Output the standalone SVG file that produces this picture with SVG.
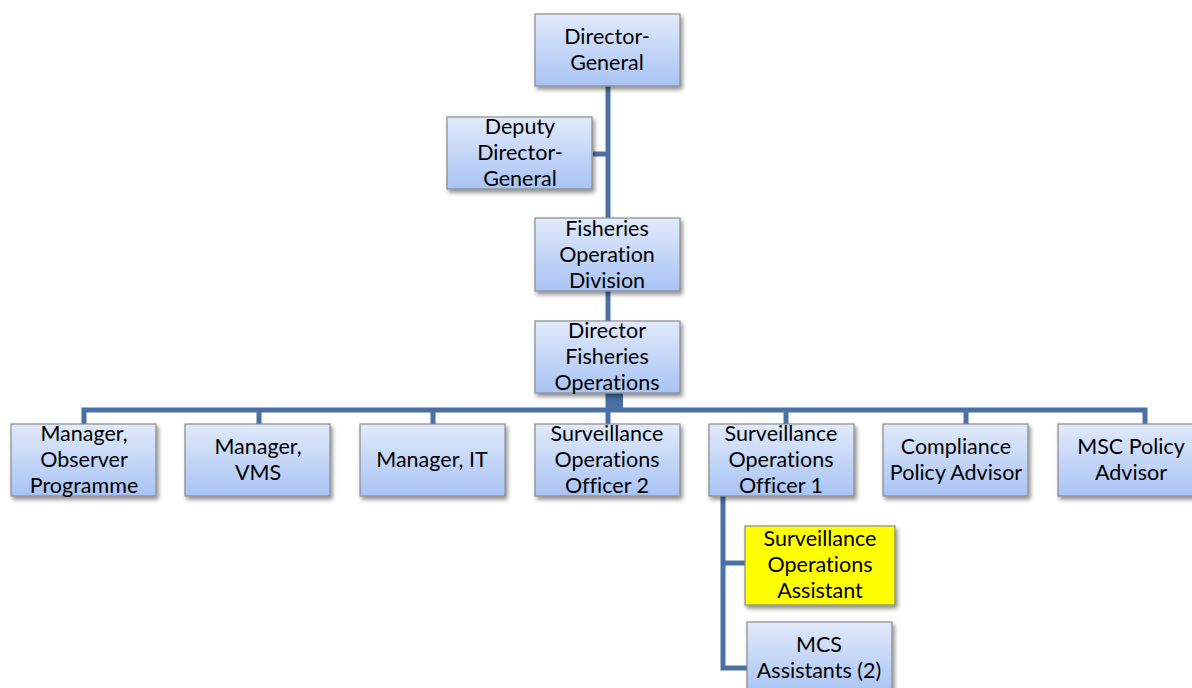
<svg xmlns="http://www.w3.org/2000/svg" width="1192" height="688" viewBox="0 0 1192 688">
<defs>
<linearGradient id="g" x1="0" y1="0" x2="0" y2="1"><stop offset="0" stop-color="#e1eafb"/><stop offset="1" stop-color="#a8c3f4"/></linearGradient>
<filter id="sh" x="-10%" y="-10%" width="125%" height="130%"><feGaussianBlur in="SourceAlpha" stdDeviation="2"/><feOffset dx="2" dy="3"/><feComponentTransfer><feFuncA type="linear" slope="0.45"/></feComponentTransfer><feMerge><feMergeNode/><feMergeNode in="SourceGraphic"/></feMerge></filter>
</defs>
<style>
.b{fill:url(#g);stroke:#8a8a8a;stroke-width:1.2;filter:url(#sh)}
.y{fill:#ffff00;stroke:#8a8a8a;stroke-width:1.2;filter:url(#sh)}
.t{font-family:Lato,"Open Sans","Liberation Sans",sans-serif;font-size:21.5px;fill:#000;text-anchor:middle;dominant-baseline:central;font-variant-ligatures:none}
.c{stroke:#4a70a5;stroke-width:5;fill:none}
</style>
<rect width="1192" height="688" fill="#fff"/>
<g id="connectors">
<path class="c" d="M608 86V410M593 154H608"/>
<rect x="606" y="393" width="17" height="17" fill="#4a70a5"/>
<path class="c" d="M84 424V410H1145V424M259 410V424M433 410V424M608 410V424M786 410V424M966 410V424"/>
<path class="c" d="M723 496V668H747M723 563H745"/>
</g>
<g id="dg"><rect class="b" x="535" y="14" width="145" height="72"/><text class="t" x="607" y="36">Director-</text><text class="t" x="607" y="62">General</text></g>
<g id="ddg"><rect class="b" x="447" y="117" width="145" height="72"/><text class="t" x="520" y="126">Deputy</text><text class="t" x="520" y="152">Director-</text><text class="t" x="520" y="178">General</text></g>
<g id="fod"><rect class="b" x="535" y="218" width="145" height="73"/><text class="t" x="607" y="228">Fisheries</text><text class="t" x="607" y="254">Operation</text><text class="t" x="607" y="280">Division</text></g>
<g id="dfo"><rect class="b" x="535" y="321" width="145" height="72"/><text class="t" x="607" y="330">Director</text><text class="t" x="607" y="356">Fisheries</text><text class="t" x="607" y="382">Operations</text></g>
<g id="mop"><rect class="b" x="11" y="424" width="145" height="72"/><text class="t" x="84" y="433">Manager,</text><text class="t" x="84" y="459">Observer</text><text class="t" x="84" y="485">Programme</text></g>
<g id="mvms"><rect class="b" x="185" y="424" width="145" height="72"/><text class="t" x="258" y="446">Manager,</text><text class="t" x="258" y="472">VMS</text></g>
<g id="mit"><rect class="b" x="360" y="424" width="145" height="72"/><text class="t" x="432" y="459">Manager, IT</text></g>
<g id="soo2"><rect class="b" x="535" y="424" width="145" height="72"/><text class="t" x="607" y="433">Surveillance</text><text class="t" x="607" y="459">Operations</text><text class="t" x="607" y="485">Officer 2</text></g>
<g id="soo1"><rect class="b" x="709" y="424" width="145" height="72"/><text class="t" x="781" y="433">Surveillance</text><text class="t" x="781" y="459">Operations</text><text class="t" x="781" y="485">Officer 1</text></g>
<g id="cpa"><rect class="b" x="883" y="424" width="145" height="72"/><text class="t" x="956" y="446">Compliance</text><text class="t" x="956" y="472">Policy Advisor</text></g>
<g id="msc"><rect class="b" x="1058" y="424" width="145" height="72"/><text class="t" x="1131" y="446">MSC Policy</text><text class="t" x="1131" y="472">Advisor</text></g>
<g id="soa"><rect class="y" x="745" y="526" width="150" height="79"/><text class="t" x="820" y="538">Surveillance</text><text class="t" x="820" y="564">Operations</text><text class="t" x="820" y="590">Assistant</text></g>
<g id="mcs"><rect class="b" x="747" y="622" width="145" height="72"/><text class="t" x="819" y="644">MCS</text><text class="t" x="819" y="670">Assistants (2)</text></g>
</svg>
